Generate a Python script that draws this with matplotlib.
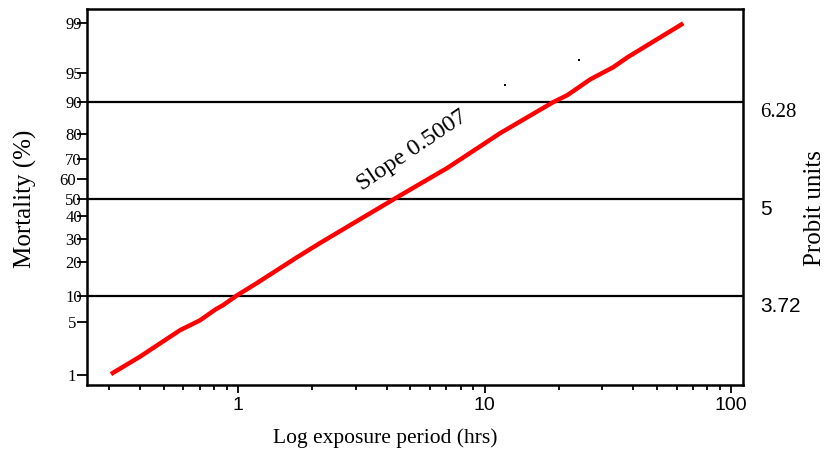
import numpy as np
import matplotlib.pyplot as plt
from matplotlib.ticker import NullFormatter

# red fitted line (x in hrs, y in probit units)
hours = [0.305, 0.40, 0.582, 0.701, 0.807, 0.869, 0.991, 1.19, 1.73, 2.15,
         4.34, 7.05, 11.56, 18.97, 21.6, 23.7, 26.8, 33.2, 37.9, 63.9]
probit = [2.69, 2.92, 3.27, 3.40, 3.54, 3.60, 3.73, 3.89, 4.23, 4.42,
          5.01, 5.41, 5.87, 6.28, 6.37, 6.46, 6.58, 6.74, 6.87, 7.32]

# stray dots
dot_hours = [12.1, 24.2]
dot_probit = [6.50, 6.83]

# mortality tick positions (probit units) and labels
mort_major = [7.32, 6.66, 6.28, 5.86, 5.53, 5.0, 4.78, 4.47, 4.17, 3.72]
mort_major_lab = ["99", "95", "90", "80", "70", "50", "40", "30", "20", "10"]
mort_minor = [5.26, 3.38, 2.68]
mort_minor_lab = ["60", "5", "1"]

# horizontal reference lines and right hand labels
ref_lines = [6.28, 5.0, 3.72]
ref_labels = ["6.28", "5", "3.72"]

serif = "Liberation Serif"
sans = "Liberation Sans"

fig = plt.figure(figsize=(8.37, 4.58), dpi=100)
ax = fig.add_axes([0.104, 0.1594, 0.784, 0.8206])

ax.plot(hours, probit, color="#ff0000", lw=3.2, solid_capstyle="butt", zorder=3)
ax.plot(dot_hours, dot_probit, "s", color="black", ms=1.6, mew=0)

for y in ref_lines:
    ax.axhline(y, color="black", lw=1.6, zorder=2)

ax.set_xscale("log")
ax.set_xlim(0.244, 111.9)
ax.set_ylim(2.546, 7.507)

# x axis
ax.set_xticks([1, 10, 100])
ax.set_xticklabels(["1", "10", "100"], fontfamily=sans, fontsize=14)
ax.xaxis.set_minor_formatter(NullFormatter())
ax.tick_params(axis="x", which="major", length=6, width=1.3, pad=3)
ax.tick_params(axis="x", which="minor", length=3.5, width=1.3)

# y axis (mortality)
ax.set_yticks(mort_major)
ax.set_yticklabels(mort_major_lab, fontfamily=serif, fontsize=12)
ax.set_yticks(mort_minor, minor=True)
ax.set_yticklabels(mort_minor_lab, minor=True, fontfamily=serif, fontsize=12)
ax.tick_params(axis="y", which="major", length=7.2, width=1.3, pad=-3.5)
ax.tick_params(axis="y", which="minor", length=7.2, width=1.3, pad=0.5)

for s in ax.spines.values():
    s.set_linewidth(1.8)

# right hand probit labels
for y, lab in zip(ref_lines, ref_labels):
    fam = serif if lab == "6.28" else sans
    ax.text(1.026, y - 0.14, lab, transform=ax.get_yaxis_transform(),
            ha="left", va="center", fontfamily=fam, fontsize=15)

ax.text(5.1, 5.64, "Slope 0.5007", rotation=34, ha="center", va="center",
        fontfamily=serif, fontsize=17.5, rotation_mode="anchor")

fig.text(0.03, 0.565, "Mortality (%)", rotation=90, ha="center", va="center",
         fontfamily=serif, fontsize=18)
fig.text(0.974, 0.545, "Probit units", rotation=90, ha="center", va="center",
         fontfamily=serif, fontsize=18)
fig.text(0.46, 0.044, "Log exposure period (hrs)", ha="center", va="center",
         fontfamily=serif, fontsize=15.5)

fig.savefig("out.png", dpi=100)
